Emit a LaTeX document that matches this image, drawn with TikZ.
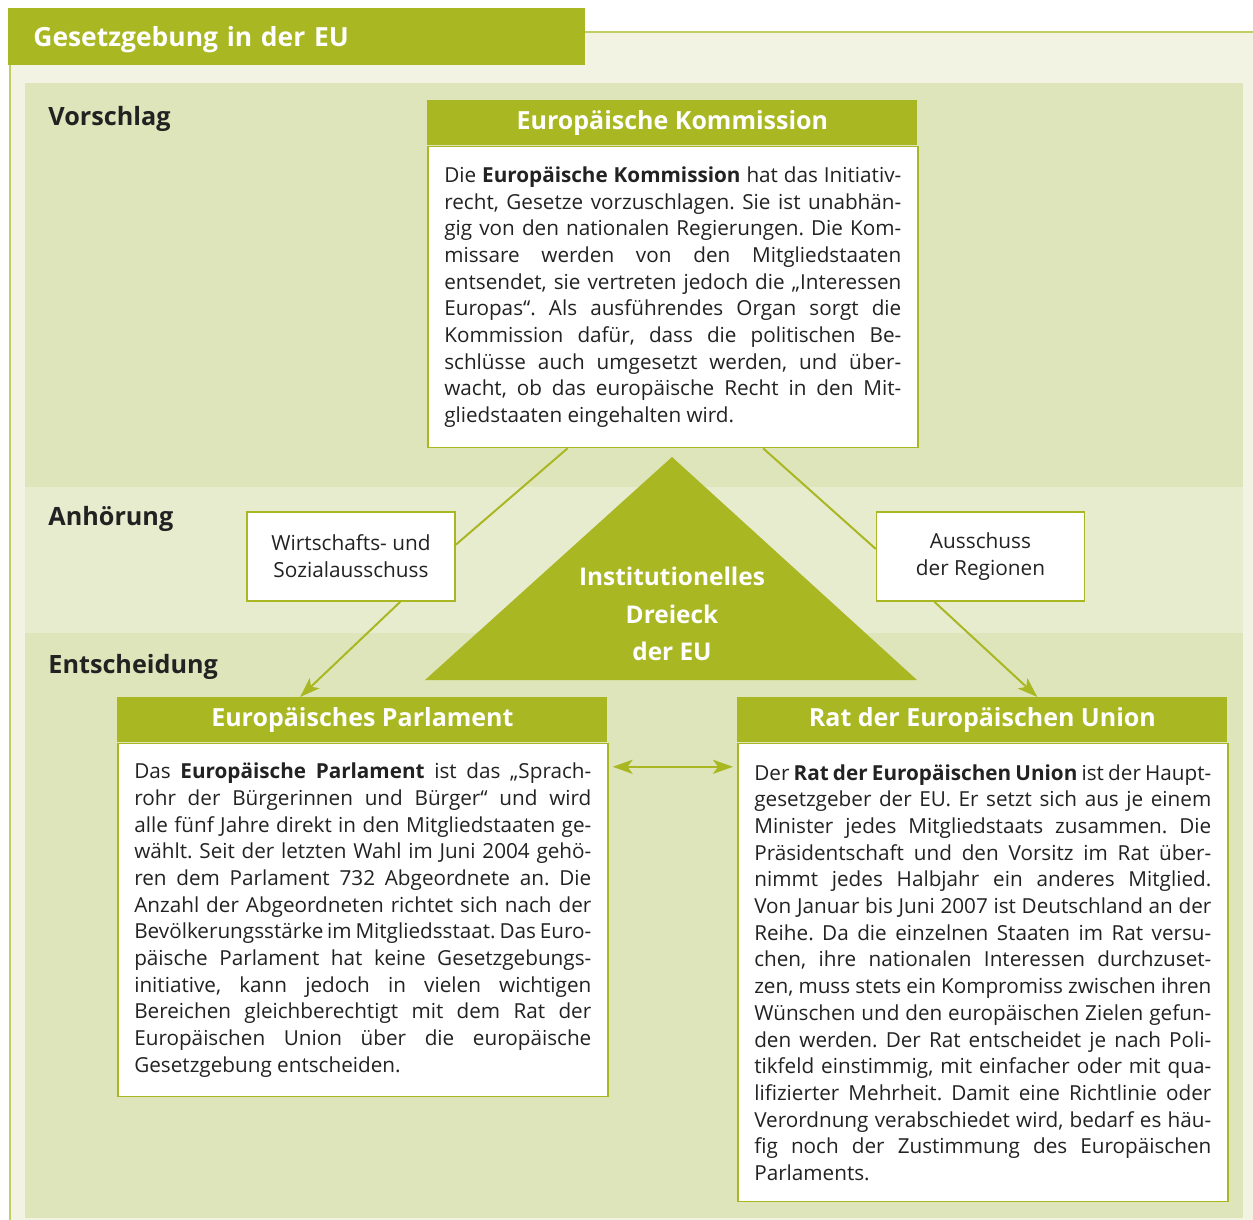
\documentclass[tikz,border=0pt]{standalone}
\usepackage{fontspec}
\setmainfont{Open Sans}
\usetikzlibrary{positioning,calc,arrows.meta}

\definecolor{eugreen}{HTML}{A8B722}
\definecolor{banddark}{HTML}{DFE5BA}
\definecolor{bandlight}{HTML}{E8ECCE}
\definecolor{cream}{HTML}{F3F3E3}
\definecolor{textdark}{HTML}{222222}

\tolerance=9999
\hyphenpenalty=10000
\frenchspacing

\begin{document}
\begin{tikzpicture}[x=0.5pt,y=-0.5pt,
		hdr/.style={rectangle,fill=eugreen,text=white,font=\bfseries\fontsize{12.5}{15}\selectfont,
			minimum width=245pt,minimum height=22.5pt,inner sep=0pt,anchor=north west},
		body/.style={rectangle,draw=eugreen,line width=0.8pt,fill=white,text=textdark,
			font=\fontsize{10.35}{13.35}\selectfont,text width=228.5pt,align=justify,
			inner xsep=8.25pt,inner ysep=0pt,anchor=north west},
		smallbox/.style={rectangle,draw=eugreen,line width=0.8pt,fill=white,text=textdark,
			font=\fontsize{10.4}{13.5}\selectfont,minimum width=104pt,minimum height=44.5pt,align=center},
		stage/.style={anchor=west,inner sep=0pt,text height=9pt,text depth=0pt,text=textdark,
			font=\bfseries\fontsize{12.6}{15}\selectfont},
		link/.style={draw=eugreen,line width=1pt},
		pfeil/.style={link,-{Stealth[length=10pt,width=7pt,inset=2.5pt]}}]
	\useasboundingbox (0,0) rectangle (1253,1220);
	% background and stages
	\fill[cream] (10,32) rectangle (1253,1220);
	\draw[eugreen!70,line width=1pt] (10,1220) -- (10,32) -- (1253,32);
	\fill[banddark] (25,83) rectangle (1243,487);
	\fill[bandlight] (25,487) rectangle (1243,633);
	\fill[banddark] (25,633) rectangle (1243,1218);
	\node[hdr,font=\bfseries\fontsize{13.2}{15}\selectfont,minimum width=288.5pt,minimum height=28.5pt,
		text width=263.5pt,text height=10pt,text depth=0pt,inner xsep=12.5pt,align=left] (titel) at (8,8) {Gesetzgebung in der EU};
	\node[stage] (vorschlag) at (48,117) {Vorschlag};
	\node[stage] (anhoerung) at (48,516) {Anhörung};
	\node[stage] (entscheidung) at (48,664) {Entscheidung};
	% triangle
	\fill[eugreen] (672,457) -- (917,680) -- (425,680) -- cycle;
	\node[align=center,text=white,font=\bfseries\fontsize{12.2}{18.75}\selectfont] (dreieck) at (672,614) {Institutionelles\\Dreieck\\der EU};
	% institutions
	\node[hdr] (kommkopf) at (427,100) {Europäische Kommission};
	\node[body,minimum height=150.5pt] (kommtext) at (kommkopf.south west) {Die \textbf{Europäische Kommission} hat das Initiativ-\linebreak
		recht, Gesetze vorzuschlagen. Sie ist unabhän-\linebreak
		gig von den nationalen Regierungen. Die Kom-\linebreak
		missare werden von den Mitgliedstaaten\linebreak
		entsendet, sie vertreten jedoch die „Interessen\linebreak
		Europas“. Als ausführendes Organ sorgt die\linebreak
		Kommission dafür, dass die politischen Be-\linebreak
		schlüsse auch umgesetzt werden, und über-\linebreak
		wacht, ob das europäische Recht in den Mit-\linebreak
		gliedstaaten eingehalten wird.};
	\node[smallbox] (wsa) at (351,556.5) {Wirtschafts- und\\Sozialausschuss};
	\node[smallbox] (adr) at (980.5,556.5) {Ausschuss\\der Regionen};
	\node[hdr] (parlkopf) at (117,697) {Europäisches Parlament};
	\node[body,minimum height=176.5pt] (parltext) at (parlkopf.south west) {Das \textbf{Europäische Parlament} ist das „Sprach-\linebreak
		rohr der Bürgerinnen und Bürger“ und wird\linebreak
		alle fünf Jahre direkt in den Mitgliedstaaten ge-\linebreak
		wählt. Seit der letzten Wahl im Juni 2004 gehö-\linebreak
		ren dem Parlament 732 Abgeordnete an. Die\linebreak
		Anzahl der Abgeordneten richtet sich nach der\linebreak
		Bevölkerungsstärke im Mitgliedsstaat. Das Euro-\linebreak
		päische Parlament hat keine Gesetzgebungs-\linebreak
		initiative, kann jedoch in vielen wichtigen\linebreak
		Bereichen gleichberechtigt mit dem Rat der\linebreak
		Europäischen Union über die europäische\linebreak
		Gesetzgebung entscheiden.};
	\node[hdr] (ratkopf) at (737,697) {Rat der Europäischen Union};
	\node[body,minimum height=229pt] (rattext) at (ratkopf.south west) {Der \textbf{Rat der Europäischen Union} ist der Haupt-\linebreak
		gesetzgeber der EU. Er setzt sich aus je einem\linebreak
		Minister jedes Mitgliedstaats zusammen. Die\linebreak
		Präsidentschaft und den Vorsitz im Rat über-\linebreak
		nimmt jedes Halbjahr ein anderes Mitglied.\linebreak
		Von Januar bis Juni 2007 ist Deutschland an der\linebreak
		Reihe. Da die einzelnen Staaten im Rat versu-\linebreak
		chen, ihre nationalen Interessen durchzuset-\linebreak
		zen, muss stets ein Kompromiss zwischen ihren\linebreak
		Wünschen und den europäischen Zielen gefun-\linebreak
		den werden. Der Rat entscheidet je nach Poli-\linebreak
		tikfeld einstimmig, mit einfacher oder mit qua-\linebreak
		lifizierter Mehrheit. Damit eine Richtlinie oder\linebreak
		Verordnung verabschiedet wird, bedarf es häu-\linebreak
		fig noch der Zustimmung des Europäischen\linebreak
		Parlaments.};
	% connectors
	\draw[link] ($(kommtext.south west)!0.2857!(kommtext.south east)$) -- ($(wsa.north east)!0.37!(wsa.south east)$);
	\draw[link] ($(kommtext.south west)!0.684!(kommtext.south east)$) -- ($(adr.north west)!0.416!(adr.south west)$);
	\draw[pfeil] ($(wsa.south west)!0.735!(wsa.south east)$) -- ($(parlkopf.north west)!0.373!(parlkopf.north east)$);
	\draw[pfeil] ($(adr.south west)!0.28!(adr.south east)$) -- ($(ratkopf.north west)!0.612!(ratkopf.north east)$);
	\draw[link,{Stealth[length=10pt,width=7pt,inset=2.5pt]}-{Stealth[length=10pt,width=7pt,inset=2.5pt]},shorten <=2pt,shorten >=2pt]
		($(parltext.north east)+(0,24)$) -- ($(rattext.north west)+(0,24)$);
\end{tikzpicture}
\end{document}
